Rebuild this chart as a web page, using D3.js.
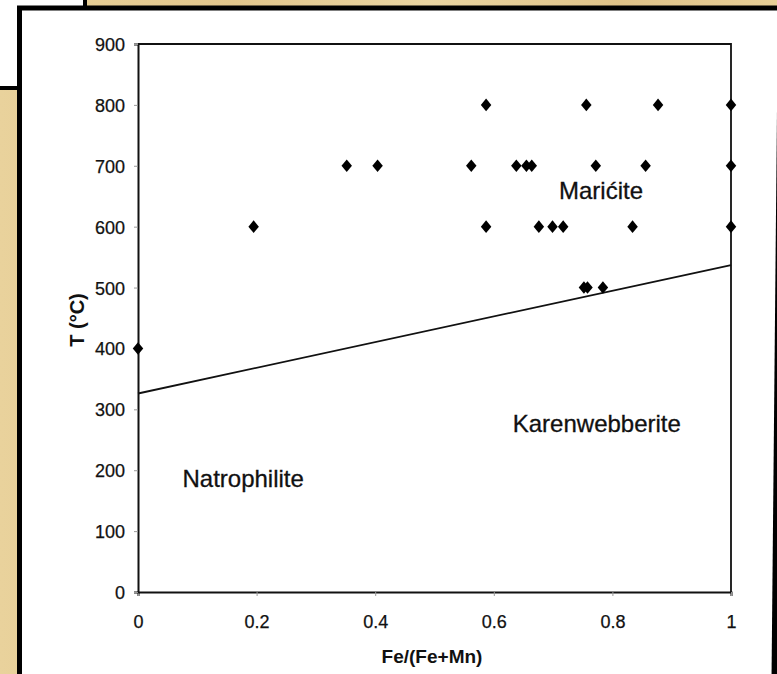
<!DOCTYPE html>
<html>
<head>
<meta charset="utf-8">
<script src="https://cdn.jsdelivr.net/npm/d3@7"></script>
<style>
  html, body { margin: 0; padding: 0; background: #fff; }
  svg { display: block; }
  text { font-family: "Liberation Sans", Arial, sans-serif; fill: #111; }
</style>
</head>
<body>
<script>
// ---- data ----
const feRatio     = [0, 0.195, 0.352, 0.404, 0.562, 0.587, 0.587, 0.638, 0.655, 0.664, 0.676, 0.699, 0.717, 0.752, 0.758, 0.756, 0.772, 0.784, 0.834, 0.856, 0.877, 1, 1, 1];
const temperature = [400, 600, 700, 700, 700, 800, 600, 700, 700, 700, 600, 600, 600, 500, 500, 800, 700, 500, 600, 700, 800, 800, 700, 600];
const boundaryX = [0, 1];
const boundaryT = [326, 537];
const xTicks = [0, 0.2, 0.4, 0.6, 0.8, 1];
const yTicks = [0, 100, 200, 300, 400, 500, 600, 700, 800, 900];
const fieldNames = ["Mari\u0107ite", "Karenwebberite", "Natrophilite"];
const fieldX = [0.71, 0.632, 0.075];
const fieldT = [645, 263, 172];
const xLabel = "Fe/(Fe+Mn)";
const yLabel = "T (\u00B0C)";

const W = 777, H = 674;
const svg = d3.select("body").append("svg").attr("width", W).attr("height", H);

// ---- page background (parchment + white panels) ----
const defs = svg.append("defs");
const grad = defs.append("linearGradient").attr("id", "parch").attr("x1", 0).attr("x2", 1).attr("y1", 0).attr("y2", 0);
[["0%", "#e9d29c"], ["30%", "#e2c68c"], ["55%", "#ead5a2"], ["80%", "#dfc288"], ["100%", "#e8cf98"]]
  .forEach(([o, c]) => grad.append("stop").attr("offset", o).attr("stop-color", c));
svg.append("rect").attr("width", W).attr("height", H).attr("fill", "url(#parch)");

// small white card at top-left
svg.append("rect").attr("x", -5).attr("y", -5).attr("width", 90).attr("height", 93)
  .attr("fill", "#fff").attr("stroke", "#000").attr("stroke-width", 4);
// main white panel
svg.append("rect").attr("x", 19.5).attr("y", 8).attr("width", 770).attr("height", 700)
  .attr("fill", "#fff").attr("stroke", "#000").attr("stroke-width", 5);
// right border (slightly skewed scan)
svg.append("line").attr("x1", 781).attr("y1", 6).attr("x2", 774.5).attr("y2", 680)
  .attr("stroke", "#000").attr("stroke-width", 6);

// ---- chart ----
const x0 = 138, x1 = 731, y0 = 592, y1 = 44;
const x = d3.scaleLinear().domain([0, 1]).range([x0, x1]);
const y = d3.scaleLinear().domain([0, 900]).range([y0, y1]);

// plot frame (top & right)
svg.append("path").attr("d", `M${x0},${y1}H${x1}V${y0}`).attr("fill", "none")
  .attr("stroke", "#111").attr("stroke-width", 1.8);

// axes
const xAxis = svg.append("g").attr("transform", `translate(0,${y0})`)
  .call(d3.axisBottom(x).tickValues(xTicks).tickFormat(d => d3.format("")(d)).tickSize(4).tickPadding(19));
const yAxis = svg.append("g").attr("transform", `translate(${x0},0)`)
  .call(d3.axisLeft(y).tickValues(yTicks).tickSize(4).tickPadding(9));
[xAxis, yAxis].forEach(g => {
  g.select(".domain").attr("stroke", "#111").attr("stroke-width", 2);
  g.selectAll(".tick line").attr("stroke", "#999").attr("stroke-width", 1);
  g.selectAll(".tick text").attr("font-family", "'Liberation Sans', Arial, sans-serif")
    .attr("font-size", 18).attr("fill", "#111").attr("stroke", "#111").attr("stroke-width", 0.25);
});
yAxis.selectAll(".tick text").attr("dy", "0.36em");

// boundary line
svg.append("line")
  .attr("x1", x(boundaryX[0])).attr("y1", y(boundaryT[0]))
  .attr("x2", x(boundaryX[1])).attr("y2", y(boundaryT[1]))
  .attr("stroke", "#111").attr("stroke-width", 1.8);

// diamond markers
const diamond = {
  draw(ctx, size) {
    const rx = Math.sqrt(size) * 0.5, ry = rx * 1.2;
    ctx.moveTo(0, -ry); ctx.lineTo(rx, 0); ctx.lineTo(0, ry); ctx.lineTo(-rx, 0); ctx.closePath();
  }
};
const sym = d3.symbol().type(diamond).size(110);
svg.append("g").selectAll("path").data(feRatio.map((v, i) => [v, temperature[i]]))
  .join("path")
  .attr("transform", d => `translate(${x(d[0])},${y(d[1])})`)
  .attr("d", sym).attr("fill", "#000");

// field labels
svg.append("g").selectAll("text").data(fieldNames).join("text")
  .attr("x", (d, i) => x(fieldX[i])).attr("y", (d, i) => y(fieldT[i]))
  .attr("font-size", 24).attr("stroke", "#111").attr("stroke-width", 0.3).text(d => d);

// axis titles
svg.append("text").attr("x", 432).attr("y", 663).attr("text-anchor", "middle")
  .attr("font-size", 19).attr("font-weight", "bold").text(xLabel);
svg.append("text").attr("transform", "translate(84,320) rotate(-90)").attr("text-anchor", "middle")
  .attr("font-size", 20).attr("font-weight", "bold").text(yLabel);
</script>
</body>
</html>
